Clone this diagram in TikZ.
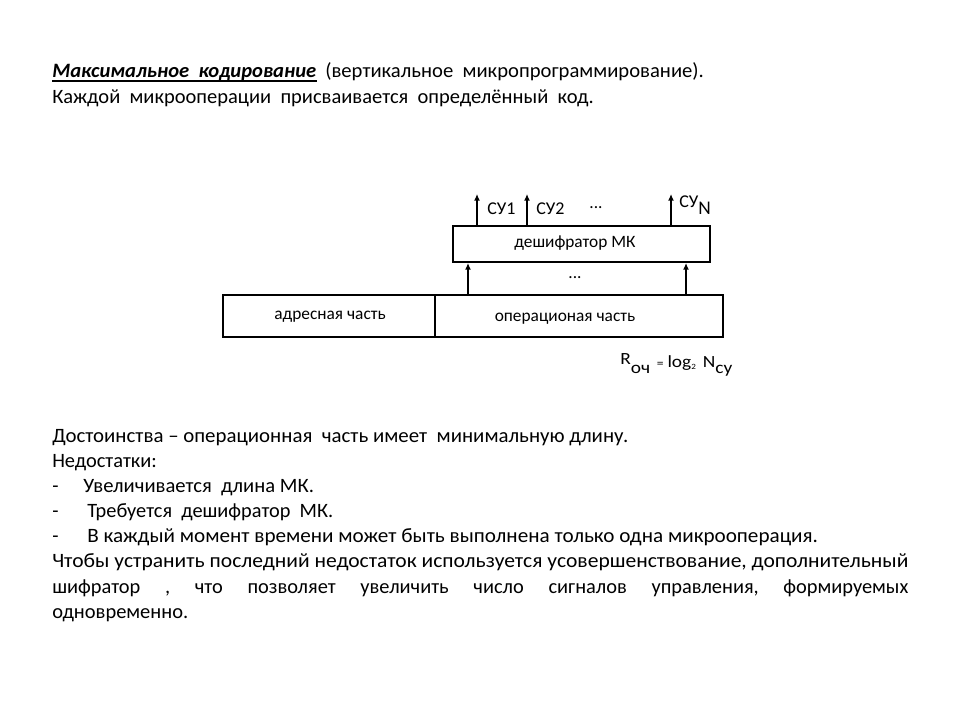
\documentclass[tikz,border=0pt]{standalone}
\usepackage{fontspec}
\setmainfont{Carlito}
\usetikzlibrary{arrows.meta}

% a text line stretched or squeezed to a given width (height unchanged)
\newcommand\fitw[2]{\resizebox{#1}{\height}{#2}}
\newcommand\dsp{\ \ }

\begin{document}
\begin{tikzpicture}[x=0.75pt,y=-0.75pt,
  body/.style={anchor=base west,inner sep=0pt,font=\fontsize{15.3}{18}\selectfont},
  small/.style={anchor=base,inner sep=0pt,font=\fontsize{13}{15}\selectfont},
  lbl/.style={anchor=base west,inner sep=0pt,font=\fontsize{13.5}{15}\selectfont},
  frame/.style={draw,line width=1.5pt,inner sep=0pt},
  arr/.style={line width=1.5pt,-{Latex[length=5pt,width=4.5pt]}}]
\useasboundingbox (0,0) rectangle (960,720);
\fill[white] (0,0) rectangle (960,720);

% heading
\node[body,font=\fontsize{15.3}{18}\selectfont\bfseries\itshape] (head) at (52,78)
  {\fitw{198pt}{Максимальное\dsp кодирование}};
\draw[line width=0.9pt] ([yshift=-2.2pt]head.base west) -- ([yshift=-2.2pt]head.base east);
\node[body] (headb) at (325,78) {\fitw{284pt}{(вертикальное\dsp микропрограммирование).}};
\node[body] (l2) at (52,104) {\fitw{406pt}{Каждой\dsp микрооперации\dsp присваивается\dsp определённый\dsp код.}};

% microcommand word
\node[frame,minimum width=159pt,minimum height=31.5pt] (addr) at (329,316) {};
\node[frame,minimum width=216pt,minimum height=31.5pt] (oper) at (579,316) {};
\node[small] (addrt) at (330,320) {адресная часть};
\node[small] (opert) at (565,321) {операционая часть};

% decoder
\node[frame,minimum width=192.75pt,minimum height=27pt] (dec) at (581.5,244) {};
\node[small] (dect) at (575,248) {дешифратор МК};

% decoder inputs
\coordinate (in1) at (468,0);
\coordinate (in2) at (686,0);
\draw[arr] (in1 |- oper.north) -- (in1 |- dec.south);
\draw[arr] (in2 |- oper.north) -- (in2 |- dec.south);
\node[small] (indots) at (575,279) {...};

% decoder outputs
\coordinate (o1) at (477,194);
\coordinate (o2) at (527,194);
\coordinate (o3) at (671,194);
\draw[arr] (o1 |- dec.north) -- (o1);
\draw[arr] (o2 |- dec.north) -- (o2);
\draw[arr] (o3 |- dec.north) -- (o3);
\node[lbl] (su1) at (487,215) {СУ1};
\node[lbl] (su2) at (536,215) {СУ2};
\node[small] (outdots) at (596,209) {...};
\node[lbl] (sun) at (679,208) {СУ\raisebox{-5.2pt}{\fontsize{14.5}{16}\selectfont N}};

% length of the operation field
\node[anchor=base west,inner sep=0pt,font=\fontsize{12.8}{15}\selectfont] (form) at (620,367)
  {\fitw{84pt}{\raisebox{2.2pt}{R}\raisebox{-4.5pt}{оч}\hspace{4.5pt}{\fontsize{9}{10}\selectfont =}\hspace{2.5pt}log\raisebox{-2pt}{\fontsize{6}{7}\selectfont 2}\hspace{4.5pt}N\raisebox{-4.5pt}{су}}};

% advantages and drawbacks
\node[body] (l3) at (52,442) {\fitw{432pt}{Достоинства – операционная\dsp часть имеет\dsp минимальную длину.}};
\node[body] (l4) at (52,467) {Недостатки:};
\node[body] (d1) at (52,492) {-};
\node[body] (l5) at (83,492) {\fitw{173pt}{Увеличивается\dsp длина МК.}};
\node[body] (d2) at (52,517) {-};
\node[body] (l6) at (87,517) {\fitw{184.5pt}{Требуется\dsp дешифратор\dsp МК.}};
\node[body] (d3) at (52,542) {-};
\node[body] (l7) at (87,542) {\fitw{548pt}{В каждый момент времени может быть выполнена только одна микрооперация.}};
\node[body] (l8) at (52,567) {\fitw{642pt}{Чтобы устранить последний недостаток используется усовершенствование, дополнительный}};
\node[body] (l9) at (52,593) {\makebox[642pt][s]{шифратор\dsp ,\dsp что\dsp позволяет\dsp увеличить\dsp число\dsp сигналов\dsp управления,\dsp формируемых}};
\node[body] (l10) at (52,618) {\fitw{102pt}{одновременно.}};
\end{tikzpicture}
\end{document}
